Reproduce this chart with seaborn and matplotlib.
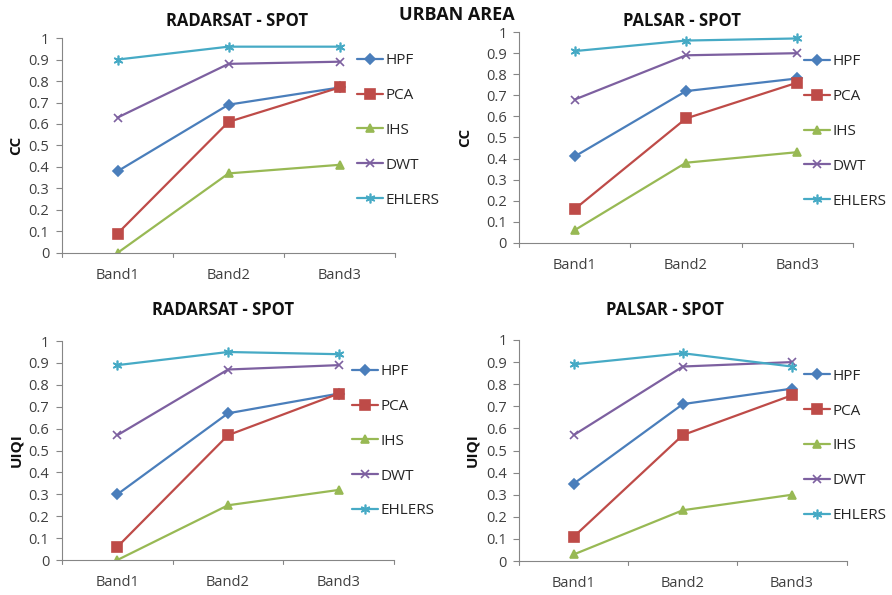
import matplotlib
matplotlib.use("Agg")
import matplotlib.pyplot as plt
import seaborn as sns
import pandas as pd

bands = ["Band1", "Band2", "Band3"]
methods = ["HPF", "PCA", "IHS", "DWT", "EHLERS"]

radarsat_cc = {
    "HPF": [0.38, 0.69, 0.77],
    "PCA": [0.09, 0.61, 0.77],
    "IHS": [0.00, 0.37, 0.41],
    "DWT": [0.63, 0.88, 0.89],
    "EHLERS": [0.90, 0.96, 0.96],
}
palsar_cc = {
    "HPF": [0.41, 0.72, 0.78],
    "PCA": [0.16, 0.59, 0.76],
    "IHS": [0.06, 0.38, 0.43],
    "DWT": [0.68, 0.89, 0.90],
    "EHLERS": [0.91, 0.96, 0.97],
}
radarsat_uiqi = {
    "HPF": [0.30, 0.67, 0.76],
    "PCA": [0.06, 0.57, 0.76],
    "IHS": [0.00, 0.25, 0.32],
    "DWT": [0.57, 0.87, 0.89],
    "EHLERS": [0.89, 0.95, 0.94],
}
palsar_uiqi = {
    "HPF": [0.35, 0.71, 0.78],
    "PCA": [0.11, 0.57, 0.75],
    "IHS": [0.03, 0.23, 0.30],
    "DWT": [0.57, 0.88, 0.90],
    "EHLERS": [0.89, 0.94, 0.88],
}

yticks = [0, 0.1, 0.2, 0.3, 0.4, 0.5, 0.6, 0.7, 0.8, 0.9, 1]
ytick_labels = ["0", "0.1", "0.2", "0.3", "0.4", "0.5", "0.6", "0.7", "0.8", "0.9", "1"]

colors = {"HPF": "#4A7EBB", "PCA": "#BE4B48", "IHS": "#98B954",
          "DWT": "#7D60A0", "EHLERS": "#46AAC5"}
markers = {"HPF": "D", "PCA": "s", "IHS": "^", "DWT": "x", "EHLERS": (6, 2, 0)}
msizes = {"HPF": 4.8, "PCA": 6.8, "IHS": 6.2, "DWT": 6.0, "EHLERS": 7.0}

sns.set_theme(style="white")
plt.rcParams["font.family"] = ["Open Sans", "DejaVu Sans"]

fig = plt.figure(figsize=(8.92, 5.95), dpi=100)

panels = [
    # data, ylabel, rect, legend anchor, ylabel x (fig), title, title pos
    (radarsat_cc, "CC", [0.0695, 0.575, 0.3735, 0.361], (0.885, 0.93), 0.018,
     "RADARSAT - SPOT", (0.266, 0.964)),
    (palsar_cc, "CC", [0.582, 0.592, 0.374, 0.354], (0.855, 0.895), 0.521,
     "PALSAR - SPOT", (0.765, 0.964)),
    (radarsat_uiqi, "UIQI", [0.0695, 0.0588, 0.3722, 0.368], (0.875, 0.895), 0.018,
     "RADARSAT - SPOT", (0.25, 0.479)),
    (palsar_uiqi, "UIQI", [0.582, 0.057, 0.367, 0.3716], (0.87, 0.87), 0.529,
     "PALSAR - SPOT", (0.746, 0.479)),
]

for data, ylab, rect, lanchor, ylx, title, tpos in panels:
    ax = fig.add_axes(rect)
    for m in methods:
        df = pd.DataFrame({"band": bands, "value": data[m]})
        sns.lineplot(data=df, x="band", y="value", ax=ax, color=colors[m],
                     marker=markers[m], markersize=msizes[m], linewidth=1.6,
                     markeredgecolor=colors[m], markeredgewidth=1.2,
                     label=m, sort=False)
    ax.set_xlim(-0.5, 2.5)
    ax.set_ylim(0, 1)
    ax.set_yticks(yticks)
    ax.set_yticklabels(ytick_labels, fontsize=10.5, color="#404040")
    ax.set_xticks([0, 1, 2])
    ax.set_xticklabels(bands, fontsize=10.5, color="#404040")
    ax.tick_params(axis="x", length=0, pad=11)
    ax.tick_params(axis="y", length=4, width=0.8, color="#868686", left=True, pad=5)
    # category boundary tick marks
    for xb in [-0.5, 0.5, 1.5, 2.5]:
        ax.plot([xb, xb], [0, -0.018], color="#868686", lw=0.8,
                clip_on=False, transform=ax.get_xaxis_transform())
    for s in ["top", "right"]:
        ax.spines[s].set_visible(False)
    for s in ["left", "bottom"]:
        ax.spines[s].set_color("#868686")
        ax.spines[s].set_linewidth(0.8)
    ax.set_xlabel("")
    ax.set_ylabel("")
    fig.text(ylx, rect[1] + rect[3] * 0.5, ylab, rotation=90, fontsize=11,
             fontweight="bold", ha="center", va="center", color="#111111")
    fig.text(tpos[0], tpos[1], title, fontsize=12, fontweight="bold",
             ha="center", va="center", color="#111111")
    leg = ax.legend(loc="upper left", bbox_to_anchor=lanchor, frameon=False,
                    fontsize=11, labelspacing=1.3, handlelength=1.7,
                    handletextpad=0.15, borderpad=0, borderaxespad=0)
    for t in leg.get_texts():
        t.set_color("#262626")

fig.text(0.512, 0.975, "URBAN AREA", fontsize=13, fontweight="bold",
         ha="center", va="center", color="#111111")

fig.savefig("out.png", dpi=100, facecolor="white")
